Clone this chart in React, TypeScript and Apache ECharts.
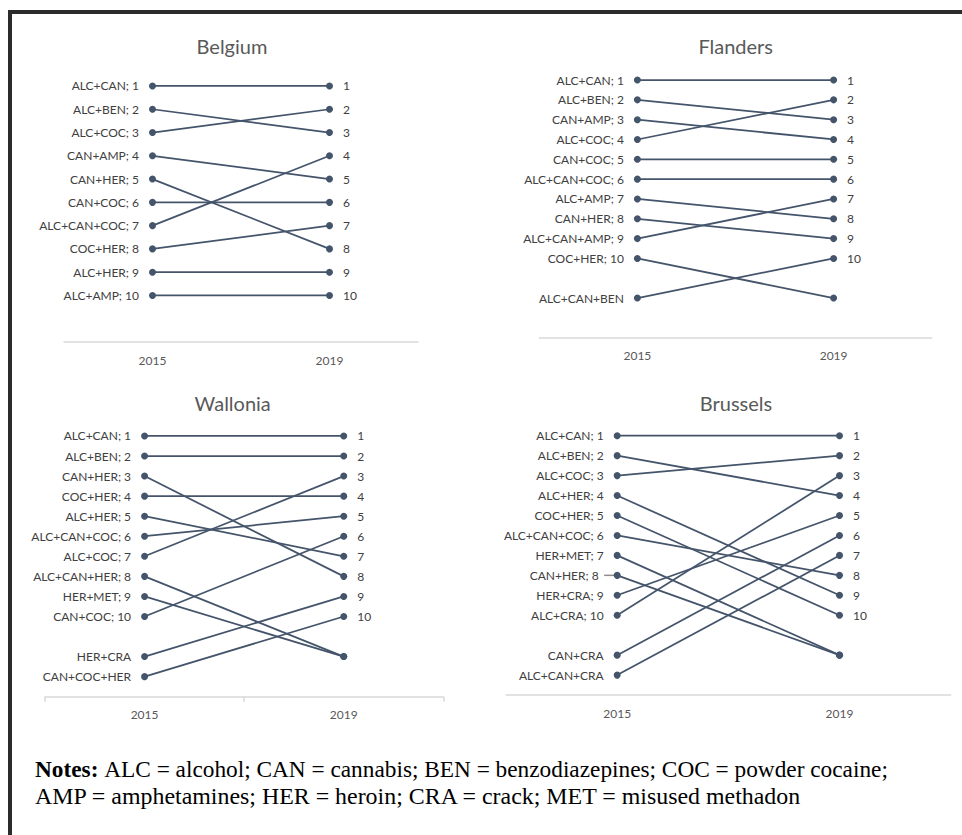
import React, { useEffect, useRef } from 'react';
import * as echarts from 'echarts';

// ---------- data ----------
const YEARS = ['2015', '2019'];
const TOP_RANK = 10;

const BELGIUM_NAMES = ['ALC+CAN', 'ALC+BEN', 'ALC+COC', 'CAN+AMP', 'CAN+HER', 'CAN+COC', 'ALC+CAN+COC', 'COC+HER', 'ALC+HER', 'ALC+AMP'];
const BELGIUM_2015 = [1, 2, 3, 4, 5, 6, 7, 8, 9, 10];
const BELGIUM_2019 = [1, 3, 2, 5, 8, 6, 4, 7, 9, 10];

const FLANDERS_NAMES = ['ALC+CAN', 'ALC+BEN', 'CAN+AMP', 'ALC+COC', 'CAN+COC', 'ALC+CAN+COC', 'ALC+AMP', 'CAN+HER', 'ALC+CAN+AMP', 'COC+HER', 'ALC+CAN+BEN'];
const FLANDERS_2015 = [1, 2, 3, 4, 5, 6, 7, 8, 9, 10, 12];
const FLANDERS_2019 = [1, 3, 4, 2, 5, 6, 8, 9, 7, 12, 10];

const WALLONIA_NAMES = ['ALC+CAN', 'ALC+BEN', 'CAN+HER', 'COC+HER', 'ALC+HER', 'ALC+CAN+COC', 'ALC+COC', 'ALC+CAN+HER', 'HER+MET', 'CAN+COC', 'HER+CRA', 'CAN+COC+HER'];
const WALLONIA_2015 = [1, 2, 3, 4, 5, 6, 7, 8, 9, 10, 12, 13];
const WALLONIA_2019 = [1, 2, 8, 4, 7, 5, 3, 12, 12, 6, 9, 10];

const BRUSSELS_NAMES = ['ALC+CAN', 'ALC+BEN', 'ALC+COC', 'ALC+HER', 'COC+HER', 'ALC+CAN+COC', 'HER+MET', 'CAN+HER', 'HER+CRA', 'ALC+CRA', 'CAN+CRA', 'ALC+CAN+CRA'];
const BRUSSELS_2015 = [1, 2, 3, 4, 5, 6, 7, 8, 9, 10, 12, 13];
const BRUSSELS_2019 = [1, 4, 2, 9, 10, 8, 12, 12, 5, 3, 6, 7];

const REGION_TITLES = ['Belgium', 'Flanders', 'Wallonia', 'Brussels'];
const REGION_NAMES = [BELGIUM_NAMES, FLANDERS_NAMES, WALLONIA_NAMES, BRUSSELS_NAMES];
const REGION_2015 = [BELGIUM_2015, FLANDERS_2015, WALLONIA_2015, BRUSSELS_2015];
const REGION_2019 = [BELGIUM_2019, FLANDERS_2019, WALLONIA_2019, BRUSSELS_2019];
const REGION_AXIS_MAX = [12, 14, 14, 14];

// label with a leader line (Brussels, CAN+HER)
const LEADER_REGION = 3;
const LEADER_NAME = 'CAN+HER';

const NOTES_LINE_1 = 'ALC = alcohol; CAN = cannabis; BEN = benzodiazepines; COC = powder cocaine;';
const NOTES_LINE_2 = 'AMP = amphetamines; HER = heroin; CRA = crack; MET = misused methadon';

// ---------- layout / style ----------
const GRIDS = [
  { left: 64, top: 62.7, width: 354, height: 279.3, tx: 232, ty: 46, ticks: false },
  { left: 539.3, top: 60.2, width: 392.4, height: 277.5, tx: 735.7, ty: 46, ticks: false },
  { left: 45, top: 415.9, width: 398.3, height: 280.8, tx: 232.7, ty: 403, ticks: true },
  { left: 506, top: 415.75, width: 444.7, height: 279.3, tx: 736, ty: 403, ticks: false },
];
const LINE_COLOR = '#44546a';
const LABEL_COLOR = '#404040';
const TITLE_COLOR = '#595959';
const AXIS_COLOR = '#d9d9d9';
const FONT = 'Lato';
const FRAME = '#2b2b2b';
const NOTES_SIZE_1 = 23.3;
const NOTES_SIZE_2 = 23.9;

function buildGraphics(leader: number[] | null) {
  const els: any[] = [
    { id: 'frameTop', type: 'rect', shape: { x: 8, y: 10, width: 954, height: 4 }, style: { fill: FRAME } },
    { id: 'frameLeft', type: 'rect', shape: { x: 8, y: 10, width: 4, height: 825 }, style: { fill: FRAME } },
  ];
  GRIDS.forEach((g, i) => {
    els.push({
      id: 'title' + i,
      type: 'text',
      x: g.tx,
      y: g.ty,
      style: {
        text: REGION_TITLES[i],
        fill: TITLE_COLOR,
        font: `20px ${FONT}`,
        textAlign: 'center',
        textVerticalAlign: 'middle',
        align: 'center',
        verticalAlign: 'middle',
      },
    });
  });
  els.push({
    id: 'notes1',
    type: 'text',
    x: 35,
    y: 769,
    style: {
      text: '{b|Notes:} {r|' + NOTES_LINE_1 + '}',
      fill: '#000',
      font: `${NOTES_SIZE_1}px "Liberation Serif"`,
      textVerticalAlign: 'middle',
      verticalAlign: 'middle',
      rich: {
        b: { fontFamily: 'Liberation Serif', fontSize: NOTES_SIZE_1, fontWeight: 'bold', fill: '#000' },
        r: { fontFamily: 'Liberation Serif', fontSize: NOTES_SIZE_1, fill: '#000' },
      },
    },
  });
  els.push({
    id: 'notes2',
    type: 'text',
    x: 35,
    y: 796,
    style: {
      text: NOTES_LINE_2,
      fill: '#000',
      font: `${NOTES_SIZE_2}px "Liberation Serif"`,
      textVerticalAlign: 'middle',
      verticalAlign: 'middle',
    },
  });
  if (leader) {
    els.push({
      id: 'leader',
      type: 'line',
      shape: { x1: leader[0] - 13, y1: leader[1], x2: leader[0] - 3, y2: leader[1] },
      style: { stroke: '#8c8c8c', lineWidth: 1.5 },
    });
  }
  return els;
}

function buildOption(): any {
  const series: any[] = [];
  REGION_NAMES.forEach((names, i) => {
    names.forEach((name, j) => {
      const a = REGION_2015[i][j];
      const b = REGION_2019[i][j];
      const leftText = a <= TOP_RANK ? `${name}; ${a}` : name;
      const isLeader = i === LEADER_REGION && name === LEADER_NAME;
      series.push({
        type: 'line',
        name: `${REGION_TITLES[i]} ${name}`,
        xAxisIndex: i,
        yAxisIndex: i,
        symbol: 'circle',
        symbolSize: 7,
        showAllSymbol: true,
        lineStyle: { color: LINE_COLOR, width: 1.75 },
        itemStyle: { color: LINE_COLOR },
        emphasis: { disabled: true },
        z: 3,
        data: [
          {
            value: a,
            label: {
              show: true,
              position: 'left',
              distance: isLeader ? 15 : 10,
              formatter: leftText,
              color: LABEL_COLOR,
              fontSize: 12,
              fontFamily: FONT,
            },
          },
          {
            value: b,
            label: {
              show: b <= TOP_RANK,
              position: 'right',
              distance: 10,
              formatter: String(b),
              color: LABEL_COLOR,
              fontSize: 12,
              fontFamily: FONT,
            },
          },
        ],
      });
    });
  });

  return {
    animation: false,
    backgroundColor: '#ffffff',
    textStyle: { fontFamily: FONT },
    grid: GRIDS.map((g) => ({ left: g.left, top: g.top, width: g.width, height: g.height, containLabel: false })),
    xAxis: GRIDS.map((g, i) => ({
      type: 'category',
      gridIndex: i,
      position: 'bottom',
      data: YEARS,
      boundaryGap: true,
      axisLine: { show: true, onZero: false, lineStyle: { color: AXIS_COLOR, width: 1.5 } },
      axisTick: { show: g.ticks, length: 5, lineStyle: { color: AXIS_COLOR, width: 1.5 } },
      axisLabel: { color: TITLE_COLOR, fontSize: 12, fontFamily: FONT, margin: 12 },
      splitLine: { show: false },
    })),
    yAxis: GRIDS.map((g, i) => ({
      type: 'value',
      gridIndex: i,
      min: 0,
      max: REGION_AXIS_MAX[i],
      inverse: true,
      show: false,
      splitLine: { show: false },
    })),
    graphic: { elements: buildGraphics(null) },
    series,
  };
}

export default function App() {
  const ref = useRef<HTMLDivElement>(null);
  useEffect(() => {
    if (!ref.current) return;
    const chart = echarts.init(ref.current, undefined, { renderer: 'svg' });
    chart.setOption(buildOption());
    const j = REGION_NAMES[LEADER_REGION].indexOf(LEADER_NAME);
    const p = chart.convertToPixel({ gridIndex: LEADER_REGION } as any, [YEARS[0], REGION_2015[LEADER_REGION][j]]) as any;
    if (p && isFinite(p[0])) {
      chart.setOption({ graphic: { elements: buildGraphics(p) } });
    }
    return () => chart.dispose();
  }, []);
  return (
    <div
      ref={ref}
      style={{ position: 'fixed', left: 0, top: 0, width: 962, height: 835, background: '#fff' }}
    />
  );
}
